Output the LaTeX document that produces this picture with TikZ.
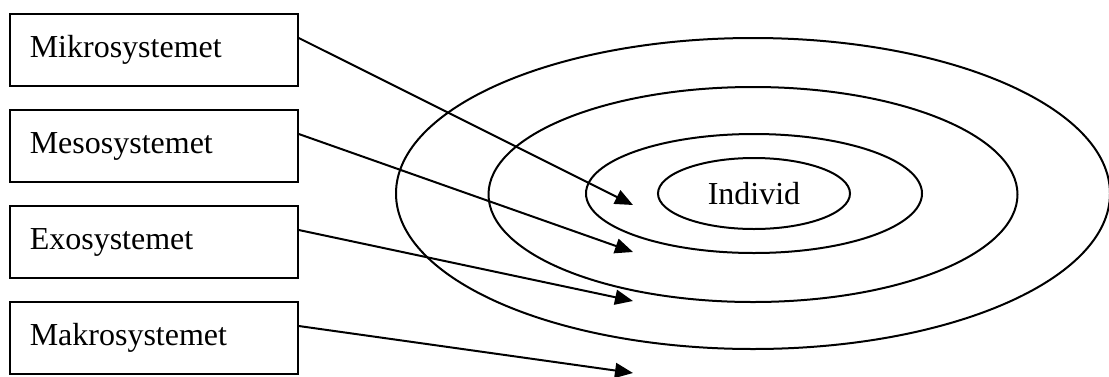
\documentclass[tikz,border=0pt]{standalone}
\usepackage{fontspec}
\setmainfont{Liberation Serif}
\usetikzlibrary{positioning,arrows.meta,shapes.geometric}

\begin{document}
\begin{tikzpicture}[
  x=0.5pt, y=-0.5pt,
  node distance=11pt,
  box/.style={draw, line width=1pt, align=left, text width=124pt, inner xsep=10pt, inner ysep=0pt, minimum height=36pt, font=\fontsize{16}{19}\selectfont},
  ring/.style={draw, ellipse, line width=1pt, inner sep=0pt},
  arr/.style={-{Triangle[length=9pt,width=7.5pt]}, line width=1pt}
]
\useasboundingbox (0,0) rectangle (1109,376);

\node[box] (mikro) at (153.75,50) {Mikrosystemet};
\node[box, below=of mikro] (meso) {Mesosystemet};
\node[box, below=of meso] (exo) {Exosystemet};
\node[box, below=of exo] (makro) {Makrosystemet};

\node[ring, minimum width=357pt, minimum height=155.5pt] (makroring) at (753,193.5) {};
\node[ring, minimum width=264.5pt, minimum height=107.5pt] (exoring) at (753,194.5) {};
\node[ring, minimum width=168pt, minimum height=59.5pt] (mesoring) at (754,193.5) {};
\node[ring, minimum width=96pt, minimum height=35.5pt, font=\fontsize{16}{19}\selectfont] (individ) at (754,193.5) {Individ};

\coordinate (mikrotip) at (633,205);
\coordinate (mesotip) at (633,252);
\coordinate (exotip) at (633,301);
\coordinate (makrotip) at (633,373);

\draw[arr] ([yshift=6pt]mikro.east) -- (mikrotip);
\draw[arr] ([yshift=6pt]meso.east) -- (mesotip);
\draw[arr] ([yshift=6pt]exo.east) -- (exotip);
\draw[arr] ([yshift=6pt]makro.east) -- (makrotip);
\end{tikzpicture}
\end{document}
